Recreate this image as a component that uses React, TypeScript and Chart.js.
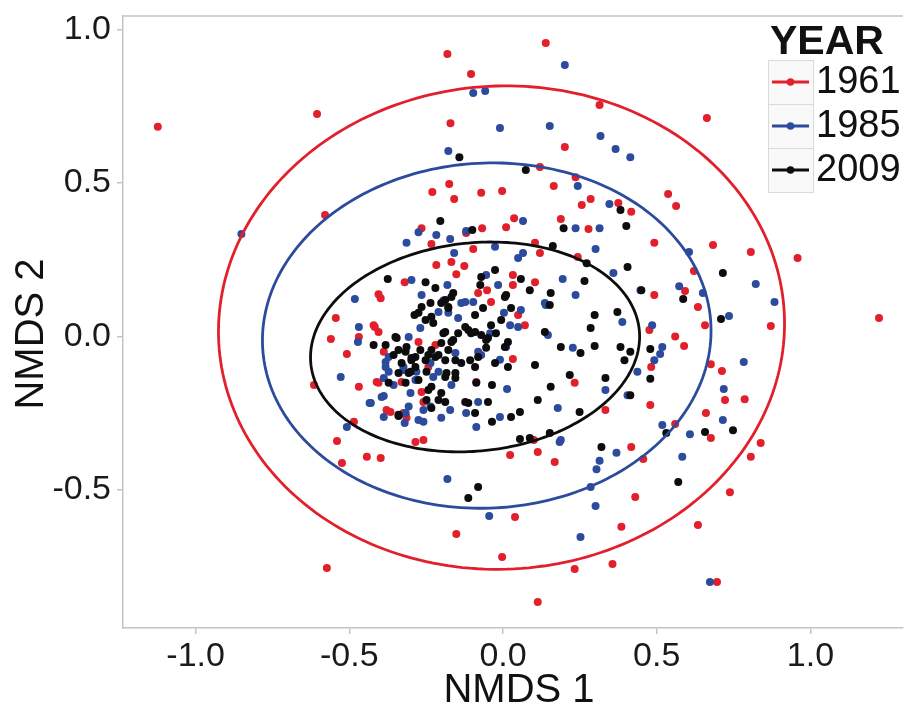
import { useEffect, useRef } from 'react';
import { Chart, registerables } from 'chart.js';

Chart.register(...registerables);

// ---- data -------------------------------------------------------------
const years = ['1961', '1985', '2009'];
const seriesColors = ['#E2202C', '#2D4B9D', '#0D0D0D'];

const xTickValues = [-1.0, -0.5, 0.0, 0.5, 1.0];
const xTickLabels = ['-1.0', '-0.5', '0.0', '0.5', '1.0'];
const yTickValues = [-0.5, 0.0, 0.5, 1.0];
const yTickLabels = ['-0.5', '0.0', '0.5', '1.0'];

const points1961: [number, number][] = [
  [-1.123, 0.683], [-0.605, 0.725], [0.139, 0.956], [-0.181, 0.92], [-0.104, 0.855],
  [0.314, 0.754], [-0.171, 0.695], [0.201, 0.617], [0.12, 0.552], [0.236, 0.519],
  [0.165, 0.49], [-0.175, 0.497], [-0.23, 0.471], [-0.159, 0.448], [-0.071, 0.468],
  [-0.003, 0.474], [0.285, 0.448], [0.256, 0.428], [-0.579, 0.396], [0.036, 0.385],
  [0.188, 0.383], [0.278, 0.35], [0.01, 0.356], [-0.068, 0.353], [-0.265, 0.353],
  [0.663, 0.712], [0.537, 0.464], [0.563, 0.425], [0.375, 0.435], [0.417, 0.406],
  [0.492, 0.305], [0.683, 0.298], [0.806, 0.275], [0.958, 0.256], [0.621, 0.213],
  [0.592, 0.148], [0.492, 0.135], [0.634, 0.096], [0.657, 0.037], [0.871, 0.034],
  [1.223, 0.06], [0.476, 0.021], [0.56, 0.0], [0.589, -0.031], [0.482, -0.099],
  [0.676, -0.09], [0.712, -0.112], [0.722, -0.207], [0.786, -0.204], [0.479, -0.223],
  [0.66, -0.249], [0.56, -0.285], [0.676, -0.331], [0.838, -0.347], [0.806, -0.392],
  [0.738, -0.507], [0.634, -0.614], [0.696, -0.8], [0.417, -0.36], [0.456, -0.399],
  [0.023, -0.386], [0.113, -0.376], [0.168, -0.409], [0.43, -0.523], [0.039, -0.588],
  [-0.152, -0.643], [0.385, -0.62], [-0.003, -0.718], [0.233, -0.757], [0.356, -0.741],
  [0.113, -0.865], [-0.54, -0.34], [-0.524, -0.412], [-0.443, -0.392], [-0.398, -0.396],
  [-0.573, -0.754], [-0.32, 0.177], [-0.405, 0.138], [-0.398, 0.125], [-0.544, 0.06],
  [-0.417, 0.031], [-0.56, -0.008], [-0.508, -0.057], [-0.615, -0.158], [-0.469, -0.164],
  [-0.405, -0.151], [-0.366, -0.246], [-0.314, -0.265], [-0.485, -0.278], [-0.12, 0.337],
  [-0.233, 0.301], [-0.097, 0.285], [0.104, 0.305], [0.12, 0.272], [0.243, 0.259],
  [-0.217, 0.233], [-0.168, 0.243], [-0.126, 0.23], [-0.152, 0.203], [0.032, 0.2],
  [0.104, 0.177], [-0.081, 0.142], [-0.052, 0.151], [0.032, 0.168], [-0.039, 0.112],
  [0.049, 0.07], [0.071, 0.037], [0.233, -0.151], [0.333, -0.239], [0.032, -0.073],
  [0.1, -0.337], [-0.421, 0.037], [-0.405, 0.015], [-0.388, -0.05], [-0.275, -0.018],
  [-0.22, -0.028], [-0.411, -0.148], [-0.33, -0.148], [-0.265, -0.181], [-0.259, -0.213],
  [-0.379, -0.239], [-0.317, -0.255], [-0.259, -0.337], [-0.285, -0.344], [-0.469, -0.002],
  [-0.087, -0.148], [-0.243, -0.099], [-0.324, -0.249],
];

const points1985: [number, number][] = [
  [-0.851, 0.334], [0.201, 0.884], [-0.097, 0.793], [-0.058, 0.8], [-0.01, 0.679],
  [0.152, 0.686], [0.317, 0.653], [0.366, 0.611], [-0.178, 0.604], [0.243, 0.49],
  [0.346, 0.432], [0.065, 0.376], [0.236, 0.353], [0.314, 0.353], [-0.12, 0.344],
  [-0.275, 0.34], [-0.217, 0.331], [0.414, 0.584], [0.605, 0.275], [0.822, 0.171],
  [0.573, 0.164], [0.65, 0.142], [0.883, 0.112], [0.735, 0.067], [0.485, 0.037],
  [0.518, -0.034], [0.511, -0.057], [0.492, -0.077], [0.783, -0.083], [0.718, -0.171],
  [0.715, -0.272], [0.518, -0.288], [0.608, -0.318], [0.583, -0.392], [0.673, -0.8],
  [0.184, -0.344], [0.369, -0.379], [0.314, -0.405], [0.304, -0.432], [-0.181, -0.464],
  [0.285, -0.49], [0.301, -0.552], [-0.045, -0.585], [0.252, -0.653], [-0.314, 0.305],
  [-0.298, 0.184], [-0.482, 0.122], [-0.469, 0.031], [-0.472, -0.018], [-0.528, -0.132],
  [-0.434, -0.217], [-0.388, -0.194], [-0.382, -0.099], [-0.388, -0.262], [-0.32, -0.282],
  [-0.508, -0.295], [-0.172, 0.318], [-0.026, 0.292], [0.065, 0.272], [0.049, 0.256],
  [0.301, 0.285], [-0.159, 0.272], [-0.055, 0.2], [0.194, 0.187], [0.359, 0.207],
  [-0.181, 0.168], [-0.016, 0.168], [0.139, 0.103], [0.236, 0.135], [0.447, 0.151],
  [-0.265, 0.135], [-0.123, 0.112], [-0.097, 0.112], [0.058, 0.086], [0.388, 0.047],
  [0.146, 0.005], [0.227, -0.037], [0.437, -0.115], [0.333, -0.174], [0.405, -0.191],
  [0.178, -0.233], [0.013, -0.171], [-0.081, -0.213], [-0.12, -0.249], [-0.01, -0.262],
  [-0.087, -0.295], [0.188, -0.337], [0.003, 0.077], [0.049, 0.031], [-0.236, -0.086],
  [-0.282, -0.115], [-0.324, -0.099], [-0.21, -0.115], [-0.155, -0.054], [-0.081, -0.05],
  [-0.301, -0.184], [-0.259, -0.239], [-0.317, -0.249], [-0.275, -0.272], [-0.201, -0.265],
  [-0.172, -0.239], [-0.307, -0.002], [-0.372, -0.067], [-0.269, 0.028], [-0.382, -0.083],
  [-0.324, -0.109], [-0.372, -0.115], [-0.388, -0.135], [-0.356, -0.158], [-0.285, -0.142],
  [-0.227, -0.132], [-0.168, -0.158], [-0.236, -0.228], [-0.307, -0.228], [-0.395, -0.197],
  [-0.43, -0.217], [-0.259, -0.278], [-0.178, 0.077], [-0.146, 0.06], [-0.042, 0.011],
  [0.01, -0.034], [0.023, 0.037], [-0.01, -0.076], [-0.071, -0.06], [0.136, 0.109],
  [-0.136, 0.109], [-0.194, 0.117], [-0.21, 0.08],
];

const points2009: [number, number][] = [
  [-0.142, 0.584], [0.074, 0.542], [-0.204, 0.376], [0.197, 0.353], [-0.1, 0.347],
  [0.382, 0.412], [0.401, 0.36], [0.715, 0.207], [0.586, 0.122], [0.709, 0.057],
  [0.479, -0.041], [0.479, -0.138], [0.531, -0.314], [0.657, -0.311], [0.748, -0.305],
  [0.57, -0.474], [0.32, -0.36], [-0.081, -0.49], [-0.113, -0.526], [-0.375, 0.187],
  [-0.288, 0.07], [-0.421, -0.028], [-0.382, -0.028], [-0.35, -0.002], [-0.372, -0.151],
  [-0.34, -0.259], [0.162, 0.295], [0.272, 0.239], [-0.026, 0.217], [0.058, 0.187],
  [0.265, 0.181], [0.405, 0.226], [-0.252, 0.177], [-0.071, 0.194], [-0.074, 0.168],
  [0.087, 0.151], [0.155, 0.142], [0.152, 0.103], [0.45, 0.151], [-0.162, 0.142],
  [-0.188, 0.119], [0.006, 0.129], [-0.065, 0.093], [0.026, 0.093], [0.372, 0.08],
  [0.298, 0.07], [0.285, 0.028], [0.188, -0.034], [0.252, -0.054], [0.298, -0.031],
  [0.382, -0.034], [0.414, -0.05], [0.395, -0.077], [0.217, -0.125], [0.333, -0.135],
  [0.414, -0.191], [0.249, -0.246], [0.155, -0.164], [0.113, -0.207], [0.104, -0.093],
  [0.006, -0.034], [-0.055, -0.037], [-0.026, -0.086], [0.016, -0.099], [-0.036, -0.158],
  [-0.087, -0.151], [-0.049, -0.213], [-0.113, -0.217], [-0.091, -0.249], [-0.036, -0.278],
  [0.026, -0.262], [0.055, -0.246], [0.055, -0.334], [0.087, -0.331], [0.152, -0.314],
  [-0.22, 0.158], [-0.236, 0.109], [-0.201, 0.109], [-0.168, 0.129], [-0.178, 0.093],
  [-0.275, 0.077], [-0.252, 0.054], [-0.227, 0.044], [-0.188, 0.015], [-0.146, 0.011],
  [-0.113, 0.021], [-0.091, 0.015], [-0.071, 0.005], [-0.049, -0.005], [-0.162, -0.011],
  [-0.201, -0.021], [-0.178, -0.044], [-0.233, -0.044], [-0.269, -0.044], [-0.317, -0.05],
  [-0.285, -0.067], [-0.252, -0.077], [-0.22, -0.067], [-0.188, -0.077], [-0.155, -0.077],
  [-0.136, -0.086], [-0.107, -0.077], [-0.081, -0.067], [-0.091, -0.099], [-0.155, -0.119],
  [-0.188, -0.132], [-0.275, -0.142], [-0.307, -0.119], [-0.317, -0.151], [-0.233, -0.164],
  [-0.201, -0.184], [-0.249, -0.207], [-0.233, -0.233], [-0.188, -0.213], [-0.356, -0.06],
  [-0.34, -0.044], [-0.314, -0.034], [-0.298, -0.07], [-0.33, -0.086], [-0.301, -0.115],
  [-0.34, -0.119], [-0.285, -0.099], [-0.346, -0.005], [-0.243, -0.06], [-0.21, -0.06],
  [-0.298, -0.077], [-0.249, -0.115], [-0.184, -0.119], [-0.155, -0.135], [-0.243, -0.174],
  [-0.21, -0.207], [-0.34, -0.255], [-0.123, -0.213], [-0.265, 0.096], [-0.233, 0.064],
  [-0.178, 0.096], [-0.123, 0.031], [-0.194, 0.011], [-0.104, 0.011], [-0.091, 0.07],
  [-0.168, -0.018], [0.01, 0.135], [-0.006, 0.054], [-0.039, 0.037], [-0.055, -0.011],
  [-0.023, 0.011], [0.016, -0.018], [0.136, 0.015],
];

// Confidence ellipse for each year: centre, semi-axes and tilt (degrees)
const ellipseCenterX = [-0.005, -0.053, -0.091];
const ellipseCenterY = [0.029, 0.003, -0.034];
const ellipseRadiusX = [0.921, 0.73, 0.537];
const ellipseRadiusY = [0.787, 0.562, 0.339];
const ellipseTiltDeg = [3, 3, 6];

const seriesPoints = [points1961, points1985, points2009];

// ---- layout / styling -------------------------------------------------
const FONT = '"Liberation Sans", Arial, Helvetica, sans-serif';
const X_MIN = -1.2362;
const X_MAX = 1.301;
const Y_MIN = -0.9495;
const Y_MAX = 1.044;
const FRAME = '#C4C4C4';

const zeroPadding = (scale: any) => {
  scale.paddingTop = 0;
  scale.paddingBottom = 0;
  scale.paddingLeft = 0;
  scale.paddingRight = 0;
};

const decorPlugin = {
  id: 'decor',
  beforeDatasetsDraw(chart: any) {
    const { ctx, chartArea } = chart;
    ctx.save();
    ctx.strokeStyle = FRAME;
    ctx.lineWidth = 1.5;
    ctx.beginPath();
    ctx.moveTo(chartArea.left, chartArea.top);
    ctx.lineTo(chartArea.right, chartArea.top);
    ctx.stroke();
    ctx.restore();
  },
  afterDatasetsDraw(chart: any) {
    const { ctx } = chart;
    const xs = chart.scales.x;
    const ys = chart.scales.y;
    ctx.save();
    ctx.lineWidth = 2.8;
    for (let k = 0; k < years.length; k++) {
      const th = (ellipseTiltDeg[k] * Math.PI) / 180;
      ctx.strokeStyle = seriesColors[k];
      ctx.beginPath();
      for (let i = 0; i <= 240; i++) {
        const t = (i / 240) * Math.PI * 2;
        const dx = ellipseRadiusX[k] * Math.cos(t);
        const dy = ellipseRadiusY[k] * Math.sin(t);
        const x = ellipseCenterX[k] + dx * Math.cos(th) - dy * Math.sin(th);
        const y = ellipseCenterY[k] + dx * Math.sin(th) + dy * Math.cos(th);
        const px = xs.getPixelForValue(x);
        const py = ys.getPixelForValue(y);
        if (i === 0) ctx.moveTo(px, py);
        else ctx.lineTo(px, py);
      }
      ctx.closePath();
      ctx.stroke();
    }
    ctx.restore();
  },
  afterDraw(chart: any) {
    const { ctx } = chart;
    ctx.save();
    // axis titles
    ctx.fillStyle = '#111';
    ctx.font = `40px ${FONT}`;
    ctx.textAlign = 'center';
    ctx.textBaseline = 'alphabetic';
    ctx.fillText('NMDS 1', 519, 702);
    ctx.save();
    ctx.translate(43, 334);
    ctx.rotate(-Math.PI / 2);
    ctx.fillText('NMDS 2', 0, 0);
    ctx.restore();

    // legend
    ctx.textAlign = 'left';
    ctx.font = `bold 41px ${FONT}`;
    ctx.fillText('YEAR', 770, 54);
    const rowTop = 60;
    const rowH = 44;
    for (let k = 0; k < years.length; k++) {
      const top = rowTop + k * rowH;
      const cy = top + rowH / 2;
      ctx.fillStyle = '#F9F9F9';
      ctx.fillRect(768, top, 45, rowH);
      ctx.strokeStyle = '#DADADA';
      ctx.lineWidth = 1;
      ctx.strokeRect(768.5, top + 0.5, 45, rowH);
      ctx.strokeStyle = seriesColors[k];
      ctx.lineWidth = 3;
      ctx.beginPath();
      ctx.moveTo(772, cy);
      ctx.lineTo(809, cy);
      ctx.stroke();
      ctx.fillStyle = seriesColors[k];
      ctx.beginPath();
      ctx.arc(790.5, cy, 3.8, 0, Math.PI * 2);
      ctx.fill();
      ctx.fillStyle = '#111';
      ctx.font = `38px ${FONT}`;
      ctx.textBaseline = 'middle';
      ctx.fillText(years[k], 816, cy + 1);
      ctx.textBaseline = 'alphabetic';
    }
    ctx.restore();
  },
};

export default function App() {
  const canvasRef = useRef<HTMLCanvasElement | null>(null);

  useEffect(() => {
    const canvas = canvasRef.current;
    if (!canvas) return;

    const datasets = years.map((year, k) => ({
      label: year,
      data: seriesPoints[k].map(([x, y]) => ({ x, y })),
      backgroundColor: seriesColors[k],
      borderWidth: 0,
      pointRadius: 4,
      pointHoverRadius: 4,
      order: years.length - k,
    }));

    const chart = new Chart(canvas, {
      type: 'scatter',
      data: { datasets },
      plugins: [decorPlugin],
      options: {
        responsive: false,
        animation: false,
        devicePixelRatio: 1,
        layout: { padding: { top: 16, right: 0, left: 0, bottom: 0 } },
        plugins: {
          legend: { display: false },
          tooltip: { enabled: false },
          title: { display: false },
        },
        scales: {
          x: {
            type: 'linear',
            min: X_MIN,
            max: X_MAX,
            afterBuildTicks: (scale: any) => {
              scale.ticks = xTickValues.map((v) => ({ value: v }));
            },
            afterFit: (scale: any) => {
              scale.height = 76;
              zeroPadding(scale);
            },
            ticks: {
              autoSkip: false,
              maxRotation: 0,
              padding: 2,
              color: '#1A1A1A',
              font: { family: FONT, size: 34 },
              callback: (v: any) => xTickLabels[xTickValues.indexOf(Number(v))] ?? '',
            },
            grid: {
              drawOnChartArea: false,
              drawTicks: true,
              tickLength: 6,
              color: FRAME,
              lineWidth: 1.5,
            },
            border: { display: true, color: FRAME, width: 1.5 },
          },
          y: {
            type: 'linear',
            min: Y_MIN,
            max: Y_MAX,
            afterBuildTicks: (scale: any) => {
              scale.ticks = yTickValues.map((v) => ({ value: v }));
            },
            afterFit: (scale: any) => {
              scale.width = 123;
              zeroPadding(scale);
            },
            ticks: {
              autoSkip: false,
              padding: 6,
              color: '#1A1A1A',
              font: { family: FONT, size: 34 },
              callback: (v: any) => yTickLabels[yTickValues.indexOf(Number(v))] ?? '',
            },
            grid: {
              drawOnChartArea: false,
              drawTicks: true,
              tickLength: 6,
              color: FRAME,
              lineWidth: 1.5,
            },
            border: { display: true, color: FRAME, width: 1.5 },
          },
        },
      },
    } as any);

    return () => chart.destroy();
  }, []);

  return (
    <div style={{ position: 'fixed', left: 0, top: 0, width: 907, height: 704, background: '#fff', overflow: 'hidden' }}>
      <canvas ref={canvasRef} width={907} height={704} style={{ display: 'block', width: 907, height: 704 }} />
    </div>
  );
}
